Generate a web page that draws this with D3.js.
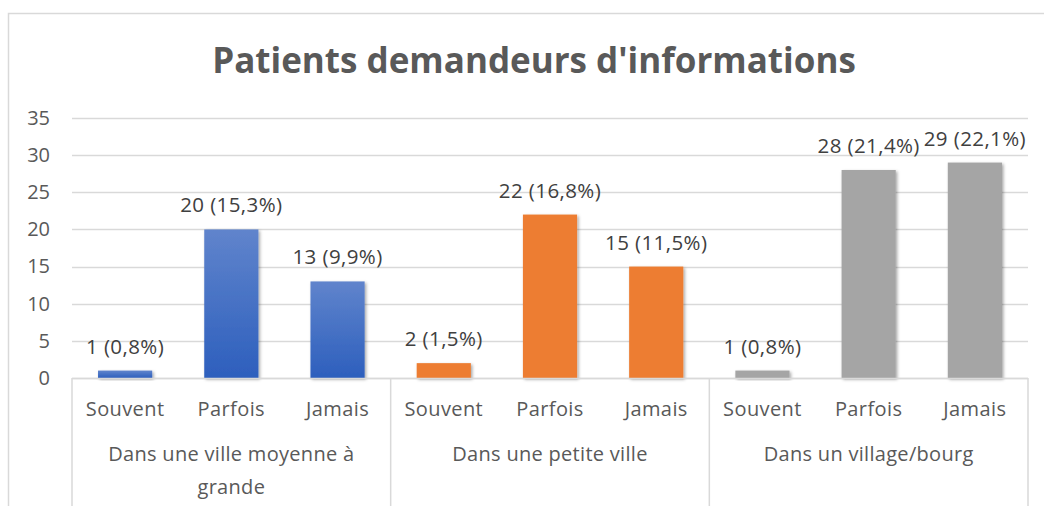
<!DOCTYPE html>
<html>
<head>
<meta charset="utf-8">
<script src="https://cdn.jsdelivr.net/npm/d3@7"></script>
<style>
  html, body { margin: 0; padding: 0; background: #ffffff; }
  svg { display: block; font-family: "Open Sans", "Noto Sans", sans-serif; }
</style>
</head>
<body>
<div id="chart"></div>
<script>
// chart data
const groups = ["Dans une ville moyenne à grande", "Dans une petite ville", "Dans un village/bourg"];
const groupLines = [["Dans une ville moyenne à", "grande"], ["Dans une petite ville"], ["Dans un village/bourg"]];
const answers = ["Souvent", "Parfois", "Jamais"];
const counts = [
  [1, 20, 13],
  [2, 22, 15],
  [1, 28, 29]
];
const percents = [
  ["0,8", "15,3", "9,9"],
  ["1,5", "16,8", "11,5"],
  ["0,8", "21,4", "22,1"]
];
const yTicks = [0, 5, 10, 15, 20, 25, 30, 35];
const title = "Patients demandeurs d'informations";

const width = 1044, height = 506;

const svg = d3.select("#chart").append("svg")
  .attr("width", width)
  .attr("height", height);

const defs = svg.append("defs");
const blueGrad = defs.append("linearGradient")
  .attr("id", "gradBlue").attr("x1", 0).attr("y1", 0).attr("x2", 0).attr("y2", 1);
blueGrad.append("stop").attr("offset", "0%").attr("stop-color", "#6084cc");
blueGrad.append("stop").attr("offset", "100%").attr("stop-color", "#2d5fbd");

const shadow = defs.append("filter").attr("id", "shadow")
  .attr("x", "-20%").attr("y", "-20%").attr("width", "150%").attr("height", "150%");
shadow.append("feDropShadow")
  .attr("dx", 1.5).attr("dy", 1.5).attr("stdDeviation", 1.6)
  .attr("flood-color", "#000").attr("flood-opacity", 0.35);

const fills = ["url(#gradBlue)", "#ed7d31", "#a5a5a5"];

// outer chart border
svg.append("rect")
  .attr("x", 8.5).attr("y", 13.5)
  .attr("width", width + 20).attr("height", height + 20)
  .attr("fill", "none")
  .attr("stroke", "#d9d9d9")
  .attr("stroke-width", 1.5);

// title
svg.append("text")
  .attr("x", 534).attr("y", 73)
  .attr("text-anchor", "middle")
  .attr("fill", "#595959")
  .style("font-size", "35px")
  .style("font-weight", "bold")
  .text(title);

const x0 = d3.scaleBand().domain(groups).range([72, 1028]).padding(0);
const x1 = d3.scaleBand().domain(answers).range([0, x0.bandwidth()])
  .paddingInner(0.49).paddingOuter(0.245);
const y = d3.scaleLinear().domain([0, 35]).range([378, 118]);

// gridlines
svg.append("g")
  .selectAll("line")
  .data(yTicks)
  .join("line")
  .attr("x1", 72).attr("x2", 1028)
  .attr("y1", d => Math.round(y(d)) + 0.5)
  .attr("y2", d => Math.round(y(d)) + 0.5)
  .attr("stroke", "#d9d9d9")
  .attr("stroke-width", 1.5);

// y axis labels
const yAxis = d3.axisLeft(y).tickValues(yTicks).tickSize(0).tickPadding(0);
const yg = svg.append("g").attr("transform", "translate(50,0)").call(yAxis);
yg.select(".domain").remove();
yg.selectAll("text")
  .attr("fill", "#595959")
  .style("font-family", "\"Open Sans\", sans-serif")
  .style("font-size", "20px");

// category dividers under the axis
svg.append("g")
  .selectAll("line")
  .data(groups.concat(["end"]))
  .join("line")
  .attr("x1", (d, i) => i < groups.length ? x0(d) : x0.range()[1])
  .attr("x2", (d, i) => i < groups.length ? x0(d) : x0.range()[1])
  .attr("y1", y(0))
  .attr("y2", 506)
  .attr("stroke", "#d9d9d9")
  .attr("stroke-width", 1.5);

// bars
const gGroups = svg.append("g")
  .selectAll("g")
  .data(groups)
  .join("g")
  .attr("transform", d => `translate(${x0(d)},0)`);

gGroups.each(function (g, gi) {
  const sel = d3.select(this);
  const rows = answers.map((a, ai) => ({ a, v: counts[gi][ai], p: percents[gi][ai] }));

  sel.selectAll("rect")
    .data(rows)
    .join("rect")
    .attr("x", d => x1(d.a))
    .attr("y", d => y(d.v))
    .attr("width", x1.bandwidth())
    .attr("height", d => y(0) - y(d.v))
    .attr("fill", fills[gi])
    .attr("filter", "url(#shadow)");

  sel.selectAll("text.lbl")
    .data(rows)
    .join("text")
    .attr("class", "lbl")
    .attr("x", d => x1(d.a) + x1.bandwidth() / 2)
    .attr("y", d => y(d.v) - 17)
    .attr("text-anchor", "middle")
    .attr("fill", "#404040")
    .style("font-size", "20.5px")
    .style("letter-spacing", "0.4px")
    .text(d => `${d.v} (${d.p}%)`);

  sel.selectAll("text.ans")
    .data(answers)
    .join("text")
    .attr("class", "ans")
    .attr("x", d => x1(d) + x1.bandwidth() / 2)
    .attr("y", 416)
    .attr("text-anchor", "middle")
    .attr("fill", "#595959")
    .style("font-size", "20px")
    .style("letter-spacing", "0.4px")
    .text(d => d);

  sel.selectAll("text.grp")
    .data(groupLines[gi])
    .join("text")
    .attr("class", "grp")
    .attr("x", x0.bandwidth() / 2)
    .attr("y", (d, i) => 461 + i * 33)
    .attr("text-anchor", "middle")
    .attr("fill", "#595959")
    .style("font-size", "20px")
    .style("letter-spacing", "0.3px")
    .text(d => d);
});

// axis baseline
svg.append("line")
  .attr("x1", 72).attr("x2", 1028)
  .attr("y1", Math.round(y(0)) + 0.5).attr("y2", Math.round(y(0)) + 0.5)
  .attr("stroke", "#d9d9d9")
  .attr("stroke-width", 1.5);
</script>
</body>
</html>
